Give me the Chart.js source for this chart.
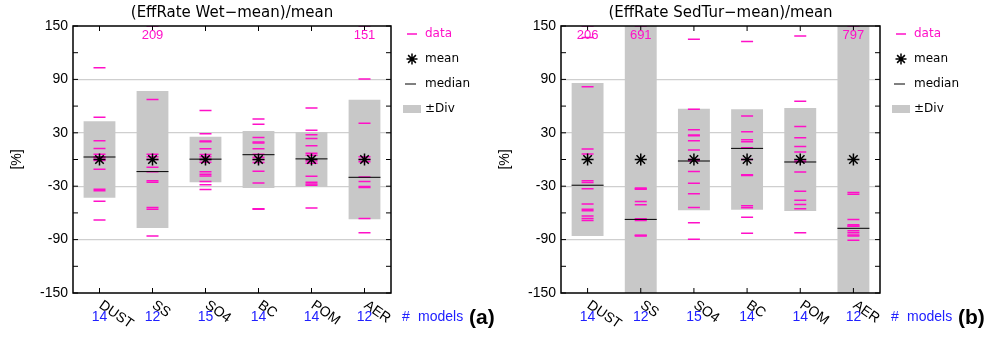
<!DOCTYPE html>
<html>
<head>
<meta charset="utf-8">
<script src="https://cdn.jsdelivr.net/npm/chart.js@4.4.1/dist/chart.umd.min.js"></script>
<style>
  html, body { margin: 0; padding: 0; background: #fff; }
  #wrap { position: relative; width: 992px; height: 338px; }
  canvas { position: absolute; top: 0; }
</style>
</head>
<body>
<div id="wrap">
  <canvas id="chartWet" width="496" height="338" style="left:0"></canvas>
  <canvas id="chartSed" width="496" height="338" style="left:496px"></canvas>
</div>
<script>
const categories = ["DUST", "SS", "SO4", "BC", "POM", "AER"];
const modelCounts = [14, 12, 15, 14, 14, 12];
const yTickLabels = [150, 90, 30, -30, -90, -150];
const yMin = -150, yMax = 150;

// panel (a): (EffRate Wet - mean)/mean, in %
const wetData = [
  [103, 47.5, 21, 12.5, 5.8, 3, 2, 0, -1, -11, -33.5, -35, -47, -68],
  [209, 67.3, 5.8, 3, 0, -8.8, -13.8, -24, -25.5, -54, -56, -86],
  [55, 29, 20.7, 20, 12, 5.6, 3, 0, -3, -13.8, -16.6, -18.5, -24.8, -28.5, -33.7],
  [45.6, 39.7, 24.8, 19.6, 18.4, 12, 5.8, 2.4, 0, -3.5, -13.2, -26.3, -55.3, -56],
  [58, 33, 27.8, 23.7, 15.5, 6.9, 4.7, -1.7, -4.3, -18.8, -25.5, -27.4, -28.9, -54.6],
  [151, 90.4, 40.8, 3.2, 0, -2.4, -19.6, -24.8, -30.4, -31.5, -66.2, -82.2]
];
const wetMean = [0, 0, 0, 0, 0, 0];
const wetMedian = [2.8, -13.6, 0.4, 5.4, 0.7, -20];
const wetDiv = [43, 77, 25.5, 32, 31, 67];

// panel (b): (EffRate SedTur - mean)/mean, in %
const sedData = [
  [206, 137, 81.8, 11.7, 6.1, -24, -25.9, -33, -50, -56, -57.6, -63.6, -66.2, -68.4],
  [691, -31.9, -33, -33.5, -47.2, -50.9, -66.5, -67.3, -68.4, -85.2, -85.5, -85.9],
  [135, 56.5, 33.4, 27.4, 26.6, 21, 10.6, 0, -1.3, -13.6, -26.7, -38.6, -53.9, -71, -89.6],
  [132.5, 49, 31.1, 22.2, 20, 13.2, 0, -17, -17.5, -18.1, -52, -54.2, -65, -82.9],
  [138.8, 65.4, 37, 24.4, 14.7, 8.4, -0.6, -2.4, -14, -35.6, -45.7, -50.5, -55.4, -82.2],
  [797, -37, -39, -67.3, -73.2, -74.7, -75, -80, -82.2, -84.8, -86, -90.8]
];
const sedMean = [0, 0, 0, 0, 0, 0];
const sedMedian = [-28.9, -67.3, -1.7, 12.5, -2.8, -77.3];
const sedDiv = [86, 210, 57, 56.5, 58, 230];

const MAGENTA = "#ff10c8";
const BLUE = "#2020ff";
const GREY = "#c8c8c8";
const SANS = "'Liberation Sans', Arial, sans-serif";
const VEC = "'DejaVu Sans', sans-serif";

function drawStar(ctx, x, y, r) {
  ctx.beginPath();
  for (let k = 0; k < 4; k++) {
    const a = k * Math.PI / 4;
    ctx.moveTo(x - Math.cos(a) * r, y - Math.sin(a) * r);
    ctx.lineTo(x + Math.cos(a) * r, y + Math.sin(a) * r);
  }
  ctx.stroke();
}

// frame, inward ticks, labels, legend
const panelDecor = {
  id: "panelDecor",
  afterDatasetsDraw(chart, args, opts) {
    const ctx = chart.ctx;
    const a = chart.chartArea;
    const xs = chart.scales.x, ys = chart.scales.y;
    ctx.save();

    ctx.strokeStyle = "#000";
    ctx.lineWidth = 1.5;
    ctx.strokeRect(a.left, a.top, a.right - a.left, a.bottom - a.top);
    ctx.lineWidth = 1;
    ctx.beginPath();
    for (let v = yMin; v <= yMax; v += 30) {
      const y = ys.getPixelForValue(v);
      ctx.moveTo(a.left, y); ctx.lineTo(a.left + 5, y);
      ctx.moveTo(a.right, y); ctx.lineTo(a.right - 5, y);
    }
    categories.forEach((c, i) => {
      const x = xs.getPixelForValue(i);
      ctx.moveTo(x, a.top); ctx.lineTo(x, a.top + 5);
      ctx.moveTo(x, a.bottom); ctx.lineTo(x, a.bottom - 5);
    });
    ctx.stroke();

    // off-scale values
    ctx.fillStyle = MAGENTA;
    ctx.font = "13px " + SANS;
    ctx.textAlign = "center";
    ctx.textBaseline = "middle";
    opts.values.forEach((list, i) => {
      list.filter(v => v > yMax).forEach(v => {
        ctx.fillText(String(v), xs.getPixelForValue(i), a.top + 9);
      });
    });

    // title
    ctx.fillStyle = "#000";
    ctx.font = "15px " + VEC;
    ctx.fillText(opts.title, (a.left + a.right) / 2, 13);

    // y title
    ctx.save();
    ctx.translate(a.left - 56, (a.top + a.bottom) / 2);
    ctx.rotate(-Math.PI / 2);
    ctx.font = "14px " + SANS;
    ctx.fillText("[%]", 0, 0);
    ctx.restore();

    // category labels and model counts
    categories.forEach((c, i) => {
      const x = xs.getPixelForValue(i);
      ctx.save();
      ctx.translate(x + 5, a.bottom + 5);
      ctx.rotate(35 * Math.PI / 180);
      ctx.fillStyle = "#000";
      ctx.font = "14px " + SANS;
      ctx.textAlign = "left";
      ctx.textBaseline = "top";
      ctx.fillText(c, 0, 0);
      ctx.restore();
      ctx.fillStyle = BLUE;
      ctx.font = "14px " + SANS;
      ctx.textAlign = "center";
      ctx.fillText(String(modelCounts[i]), x, a.bottom + 24);
    });
    ctx.textAlign = "left";
    ctx.fillStyle = BLUE;
    ctx.fillText("#", a.right + 11, a.bottom + 24);
    ctx.fillText("models", a.right + 27, a.bottom + 24);

    ctx.fillStyle = "#000";
    ctx.font = "bold 21px " + SANS;
    ctx.fillText(opts.letter, a.right + 78, a.bottom + 25);

    // legend
    const lx = a.right;
    ctx.font = "12px " + VEC;
    ctx.lineWidth = 1.5;
    ctx.strokeStyle = MAGENTA;
    ctx.beginPath();
    ctx.moveTo(lx + 16, 34); ctx.lineTo(lx + 26, 34);
    ctx.stroke();
    ctx.fillStyle = MAGENTA;
    ctx.fillText("data", lx + 34, 34);

    ctx.strokeStyle = "#000";
    drawStar(ctx, lx + 21, 59, 5.5);
    ctx.fillStyle = "#000";
    ctx.fillText("mean", lx + 34, 59);

    ctx.lineWidth = 1;
    ctx.beginPath();
    ctx.moveTo(lx + 14, 84); ctx.lineTo(lx + 25, 84);
    ctx.stroke();
    ctx.fillText("median", lx + 34, 84);

    ctx.fillStyle = GREY;
    ctx.fillRect(lx + 12, 105, 18, 8);
    ctx.fillStyle = "#000";
    ctx.fillText("\u00b1Div", lx + 34, 109);

    ctx.restore();
  }
};

function makePanel(id, values, mean, median, div, title, letter, axisWidth, padRight) {
  const points = [];
  values.forEach((list, i) => {
    list.forEach(v => points.push({ x: categories[i], y: Math.min(v, yMax) }));
  });
  new Chart(document.getElementById(id), {
    type: "bar",
    data: {
      labels: categories,
      datasets: [
        {
          type: "bar",
          data: div.map(d => [-d, d]),
          backgroundColor: GREY,
          barPercentage: 0.6,
          categoryPercentage: 1,
          order: 4
        },
        {
          type: "line",
          data: points,
          showLine: false,
          pointStyle: "line",
          pointRadius: 6,
          pointBorderColor: MAGENTA,
          pointBorderWidth: 1.5,
          order: 3
        },
        {
          type: "line",
          data: median.map((v, i) => ({ x: categories[i], y: v })),
          showLine: false,
          pointStyle: "line",
          pointRadius: 16,
          pointBorderColor: "#000",
          pointBorderWidth: 1,
          order: 2
        },
        {
          type: "line",
          data: mean.map((v, i) => ({ x: categories[i], y: v })),
          showLine: false,
          pointStyle: "star",
          pointRadius: 6,
          pointBorderColor: "#000",
          pointBorderWidth: 1.5,
          order: 1
        }
      ]
    },
    options: {
      responsive: false,
      animation: false,
      devicePixelRatio: 1,
      layout: { padding: { left: 0, right: padRight, top: 26, bottom: 0 } },
      plugins: {
        legend: { display: false },
        tooltip: { enabled: false },
        panelDecor: { values: values, title: title, letter: letter }
      },
      scales: {
        x: {
          offset: true,
          grid: { display: false },
          border: { display: false },
          ticks: { display: false },
          afterFit: s => { s.height = 45; }
        },
        y: {
          min: yMin,
          max: yMax,
          border: { display: false },
          grid: {
            drawTicks: false,
            color: c => (c.tick && [90, 30, -30, -90].includes(c.tick.value)) ? "#cfcfcf" : "rgba(0,0,0,0)",
            lineWidth: 1.2
          },
          ticks: {
            stepSize: 30,
            autoSkip: false,
            padding: 5,
            color: "#000",
            font: { family: SANS, size: 14 },
            callback: v => yTickLabels.includes(v) ? String(v) : ""
          },
          afterFit: s => { s.width = axisWidth; }
        }
      }
    },
    plugins: [panelDecor]
  });
}

makePanel("chartWet", wetData, wetMean, wetMedian, wetDiv,
  "(EffRate Wet\u2212mean)/mean", "(a)", 73, 105);
makePanel("chartSed", sedData, sedMean, sedMedian, sedDiv,
  "(EffRate SedTur\u2212mean)/mean", "(b)", 65, 112);
</script>
</body>
</html>
